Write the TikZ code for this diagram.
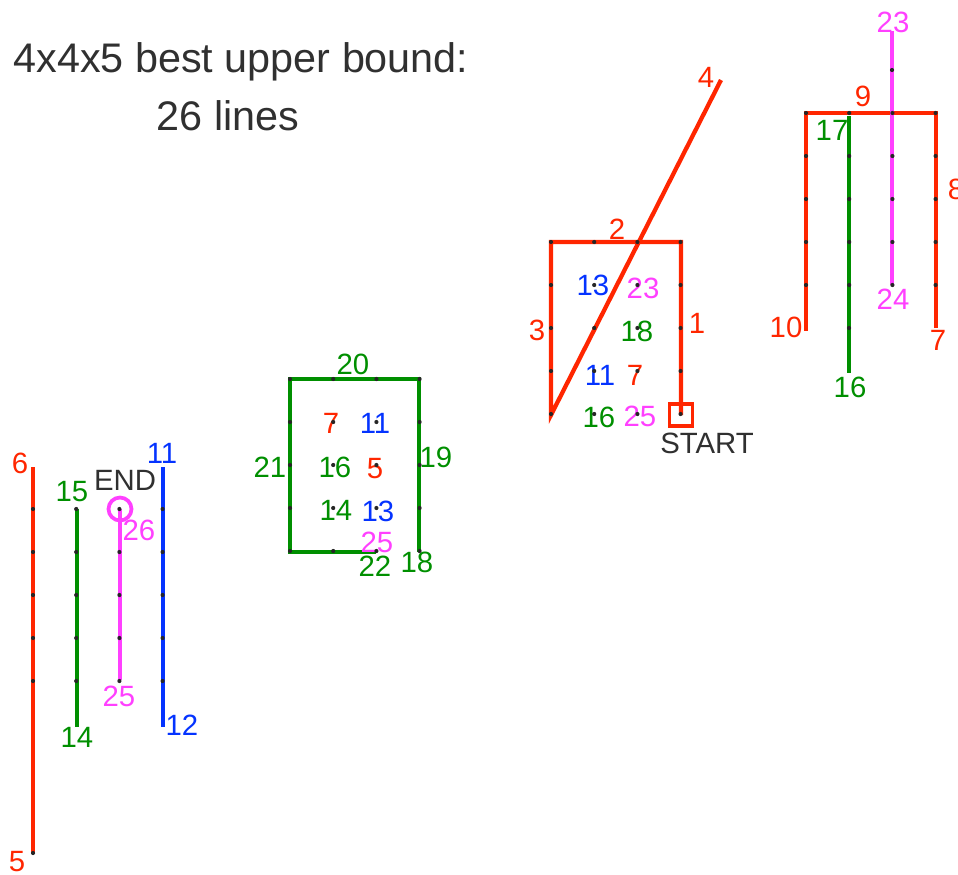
\documentclass[tikz,border=0pt]{standalone}
\usepackage{fontspec}
\setmainfont{Liberation Sans}
\usepackage{xcolor}
\definecolor{lnred}{HTML}{FF2600}
\definecolor{lngreen}{HTML}{008F00}
\definecolor{lnblue}{HTML}{0433FF}
\definecolor{lnpink}{HTML}{FF40FF}
\definecolor{txtgray}{HTML}{303030}
\begin{document}
\begin{tikzpicture}[x=0.75pt, y=-0.75pt,
  redline/.style={draw=lnred, line width=3.2pt},
  greenline/.style={draw=lngreen, line width=3.2pt},
  blueline/.style={draw=lnblue, line width=3.2pt},
  pinkline/.style={draw=lnpink, line width=2.7pt},
  gridpt/.style={fill=black!85},
  lbl/.style={inner sep=0pt, font=\fontsize{22}{26}\selectfont},
  ttl/.style={inner sep=0pt, anchor=base, text=txtgray, font=\fontsize{31}{36}\selectfont}
]
  \useasboundingbox (0,0) rectangle (958,875);
  % Title
  \node[ttl] (title1) at (241,72) {4x4x5 best upper bound:};
  \node[ttl] (title2) at (228,130) {26 lines};

  % Layer 1 (bottom left)
  \coordinate (r6) at (33,467);   \coordinate (r5) at (33,853);
  \coordinate (g15) at (77,509);  \coordinate (g14) at (77,727);
  \coordinate (m26) at (120,509); \coordinate (m25) at (120,680);
  \coordinate (b11) at (163,467); \coordinate (b12) at (163,727);
  \draw[redline] (r6) -- (r5);
  \draw[greenline] (g15) -- (g14);
  \draw[pinkline] (m26) -- (m25);
  \draw[blueline] (b11) -- (b12);
  \draw[lnpink, line width=2.8pt] (m26) circle[radius=11.5];

  % Layer 2
  \coordinate (g18) at (419,552); \coordinate (g19) at (419,379);
  \coordinate (g20) at (290,379); \coordinate (g21) at (290,552);
  \coordinate (g22) at (376,552);
  \draw[greenline] (g18) -- (g19) -- (g20) -- (g21) -- (g22);

  % Layer 3
  \coordinate (r0) at (681,415);  \coordinate (r1) at (681,242);
  \coordinate (r2) at (551,242);  \coordinate (r3) at (551,415);
  \coordinate (r4) at (721,80);
  \draw[redline] (r0) -- (r1) -- (r2) -- (r3) -- (r4);
  \draw[lnred, line width=2.4pt] ([shift={(-11.5,-11)}]r0) rectangle ([shift={(11.5,11)}]r0);

  % Layer 4 (top right)
  \coordinate (r7) at (936,328);  \coordinate (r8) at (936,113);
  \coordinate (r9) at (806,113);  \coordinate (r10) at (806,331);
  \coordinate (g17) at (849,116); \coordinate (g16) at (849,373);
  \coordinate (m23) at (892,31);  \coordinate (m24) at (892,285);
  \draw[redline] (r7) -- (r8) -- (r9) -- (r10);
  \draw[greenline] (g17) -- (g16);
  \draw[pinkline] (m23) -- (m24);

  % Labels, layer 1
  \node[lbl, text=lnred] (l6) at (20,463) {6};
  \node[lbl, text=lnred] (l5) at (17,862) {5};
  \node[lbl, text=lngreen] (l15) at (72,492) {15};
  \node[lbl, text=lngreen] (l14) at (77,737) {14};
  \node[lbl, text=txtgray] (lend) at (125,480) {END};
  \node[lbl, text=lnpink] (l26) at (139,530) {26};
  \node[lbl, text=lnpink] (l25) at (119,696) {25};
  \node[lbl, text=lnblue] (l11) at (162,453) {11};
  \node[lbl, text=lnblue] (l12) at (182,725) {12};
  % Labels, layer 2
  \node[lbl, text=lngreen] (l20) at (353,364) {20};
  \node[lbl, text=lngreen] (l21) at (270,467) {21};
  \node[lbl, text=lngreen] (l19) at (436,457) {19};
  \node[lbl, text=lnred] (l7b) at (331,423) {7};
  \node[lbl, text=lnblue] (l11b) at (375,423) {11};
  \node[lbl, text=lngreen] (l16b) at (335,467) {16};
  \node[lbl, text=lnred] (l5b) at (375,469) {5};
  \node[lbl, text=lngreen] (l14b) at (336,510) {14};
  \node[lbl, text=lnblue] (l13b) at (378,511) {13};
  \node[lbl, text=lnpink] (l25b) at (377,542) {25};
  \node[lbl, text=lngreen] (l22) at (375,566) {22};
  \node[lbl, text=lngreen] (l18) at (417,562) {18};
  % Labels, layer 3
  \node[lbl, text=lnred] (l2) at (617,229) {2};
  \node[lbl, text=lnblue] (l13c) at (593,285) {13};
  \node[lbl, text=lnpink] (l23c) at (643,288) {23};
  \node[lbl, text=lnred] (l3) at (537,330) {3};
  \node[lbl, text=lngreen] (l18c) at (637,331) {18};
  \node[lbl, text=lnred] (l1) at (697,323) {1};
  \node[lbl, text=lnblue] (l11c) at (600,375) {11};
  \node[lbl, text=lnred] (l7c) at (635,375) {7};
  \node[lbl, text=lngreen] (l16c) at (599,417) {16};
  \node[lbl, text=lnpink] (l25c) at (640,416) {25};
  \node[lbl, text=txtgray] (lstart) at (707,443) {START};
  \node[lbl, text=lnred] (l4) at (706,77) {4};
  % Labels, layer 4
  \node[lbl, text=lnpink] (l23) at (893,22) {23};
  \node[lbl, text=lnred] (l9) at (863,96) {9};
  \node[lbl, text=lngreen] (l17) at (832,130) {17};
  \node[lbl, text=lnred] (l8) at (956,189) {8};
  \node[lbl, text=lnpink] (l24) at (893,299) {24};
  \node[lbl, text=lnred] (l10) at (786,327) {10};
  \node[lbl, text=lnred] (l7) at (938,340) {7};
  \node[lbl, text=lngreen] (l16) at (850,387) {16};

  % Grid points of the four layers
  \foreach \ox/\oy in {33/509, 290/379, 551/242, 806/113} {
    \foreach \i in {0,...,3} {
      \foreach \j in {0,...,4} {
        \fill[gridpt] (\ox+\i*43.2, \oy+\j*43) circle[radius=2.1];
      }
    }
  }
  \fill[gridpt] (r5) circle[radius=2.1];
  \fill[gridpt] (892,70) circle[radius=2.1];
  \fill[gridpt] (849,328) circle[radius=2.1];
\end{tikzpicture}
\end{document}
